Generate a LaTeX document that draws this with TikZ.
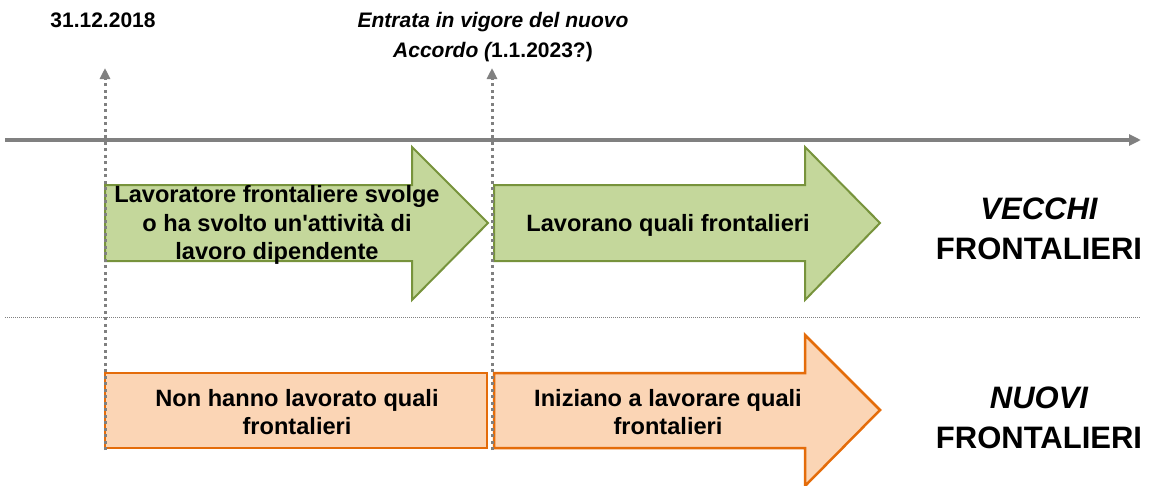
\documentclass[tikz,border=0pt]{standalone}
\usepackage{fontspec}
\setmainfont{Liberation Sans}
\usepackage{tikz}
\usetikzlibrary{arrows.meta,positioning}
\usepackage{xcolor}
\definecolor{vgreen}{RGB}{196,215,155}
\definecolor{vgreenline}{RGB}{119,147,60}
\definecolor{norange}{RGB}{251,213,181}
\definecolor{norangeline}{RGB}{228,108,10}
\definecolor{tlgray}{RGB}{128,128,128}
\tikzstyle{timeline} = [line width=4pt,color=tlgray,-{Triangle[width=11pt,length=12pt]}]
\tikzstyle{marker} = [line width=3pt,color=tlgray,dash pattern=on 3pt off 3.5pt,-{Triangle[width=10pt,length=11pt]}]
\tikzstyle{oldshape} = [line width=2pt,draw=vgreenline,fill=vgreen,line join=miter]
\tikzstyle{newshape} = [line width=2.5pt,draw=norangeline,fill=norange,line join=miter]
\tikzstyle{txt} = [font=\fontsize{23.6}{28.5}\selectfont\bfseries,align=center,inner sep=0pt]
\tikzstyle{group} = [font=\fontsize{31}{40}\selectfont\bfseries,align=center,inner sep=0pt]
\tikzstyle{date} = [font=\fontsize{21}{30}\selectfont\bfseries,align=center,inner sep=0pt]

\begin{document}
\begin{tikzpicture}[x=1pt,y=-1pt]
    \useasboundingbox (0,0) rectangle (1151,485);

    % Time axis and separator
    \coordinate (axL) at (5,140);
    \coordinate (axR) at (1141,140);
    \draw[timeline] (axL) -- (axR);
    \coordinate (sepL) at (5,317);
    \coordinate (sepR) at (1141,317);
    \draw[tlgray, line width=0.8pt, dash pattern=on 1pt off 1pt] (sepL) -- (sepR);

    % Vecchi frontalieri
    \draw[oldshape] (105,185) -- (412,185) -- (412,147) -- (488,223) -- (412,300) -- (412,261) -- (105,261) -- cycle;
    \node[txt] (old1) at (277,225) {Lavoratore frontaliere svolge\\o ha svolto un\textquotesingle attività di\\lavoro dipendente};
    \draw[oldshape] (494,185) -- (805,185) -- (805,147) -- (880,223) -- (805,300) -- (805,261) -- (494,261) -- cycle;
    \node[txt] (old2) at (668,225) {Lavorano quali frontalieri};

    % Nuovi frontalieri
    \draw[newshape] (105,373) rectangle (487,448);
    \node[txt] (new1) at (297,412) {Non hanno lavorato quali\\frontalieri};
    \draw[newshape] (494,373) -- (805,373) -- (805,335) -- (880,410) -- (805,486) -- (805,448) -- (494,448) -- cycle;
    \node[txt] (new2) at (668,412) {Iniziano a lavorare quali\\frontalieri};

    % Dates
    \coordinate (m1bot) at (105,450);
    \coordinate (m1top) at (105,68);
    \draw[marker] (m1bot) -- (m1top);
    \coordinate (m2bot) at (492,450);
    \coordinate (m2top) at (492,68);
    \draw[marker] (m2bot) -- (m2top);
    \node[date] (d1) at (103,20) {31.12.2018};
    \node[date] (d2) at (493,37) {\itshape Entrata in vigore del nuovo\\\itshape Accordo (\upshape 1.1.2023?)};

    % Groups
    \node[group] (gold) at (1039,229) {\itshape VECCHI\\FRONTALIERI};
    \node[group] (gnew) at (1039,418) {\itshape NUOVI\\FRONTALIERI};
\end{tikzpicture}
\end{document}
